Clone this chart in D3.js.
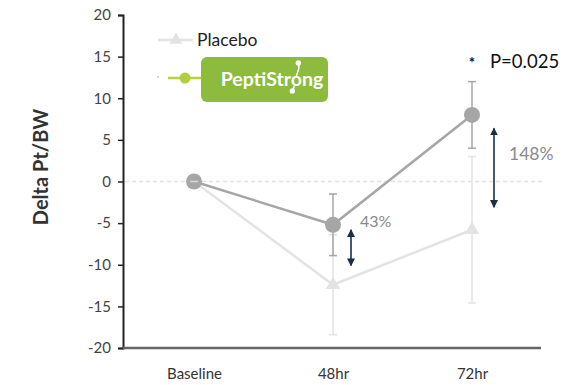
<!DOCTYPE html>
<html>
<head>
<meta charset="utf-8">
<script src="https://cdn.jsdelivr.net/npm/d3@7"></script>
<style>
  body { margin: 0; background: #fff; }
  svg { display: block; font-family: Lato, "Open Sans", sans-serif; }
</style>
</head>
<body>
<svg id="chart" width="565" height="385"></svg>
<script>
// Time points and tick labels
const categories = ["Baseline", "48hr", "72hr"];
const yTicks = [-20, -15, -10, -5, 0, 5, 10, 15, 20];

// Mean change and error (SD) per group
const peptiMean = [0, -5.2, 8.0];
const peptiErr = [0, 3.7, 4.0];
const placeboMean = [0, -12.4, -5.8];
const placeboErr = [0, 6.0, 8.8];

// Improvement annotations
const diffLabels = ["43%", "148%"];
const pLabel = "P=0.025";

const svg = d3.select("#chart");
const margin = { left: 123, right: 25, top: 15, bottom: 37 };
const W = 565, H = 385;

const x = d3.scalePoint().domain(categories).range([194, 472]);
const y = d3.scaleLinear().domain([-20, 20]).range([H - margin.bottom, margin.top]);

// zero reference line
svg.append("line")
  .attr("x1", margin.left + 2).attr("x2", 545)
  .attr("y1", y(0)).attr("y2", y(0))
  .attr("stroke", "#e2e2e2").attr("stroke-width", 1.5)
  .attr("stroke-dasharray", "4,3");

// y axis
const yAxis = svg.append("g")
  .attr("transform", `translate(${margin.left},0)`)
  .call(d3.axisLeft(y).tickValues(yTicks).tickFormat(d => String(d)).tickSize(5).tickPadding(7));
yAxis.select(".domain").attr("stroke", "#222").attr("stroke-width", 2);
yAxis.selectAll(".tick line").attr("stroke", "#222").attr("stroke-width", 1.5);
yAxis.selectAll(".tick text").attr("fill", "#444").attr("font-size", 15)
  .attr("font-family", "Lato, sans-serif");

// x axis
const xAxis = svg.append("g")
  .attr("transform", `translate(0,${y(-20)})`)
  .call(d3.axisBottom(x).tickSize(0).tickPadding(20));
xAxis.select(".domain").attr("d", `M${margin.left},0H541`)
  .attr("stroke", "#666").attr("stroke-width", 2.5);
xAxis.selectAll(".tick text").attr("fill", "#333").attr("font-size", 15)
  .attr("font-family", "Lato, sans-serif");

// y axis title
svg.append("text")
  .attr("transform", `translate(48,167) rotate(-90)`)
  .attr("text-anchor", "middle")
  .attr("font-size", 20).attr("font-weight", "bold").attr("fill", "#333")
  .attr("font-family", "Lato, sans-serif")
  .text("Delta Pt/BW");

const light = "#e3e3e3", mid = "#a6a6a6";

// Placebo series
const placeboPts = categories.map((c, i) => ({ c, m: placeboMean[i], e: placeboErr[i] }));
const errBar = (g, pts, color, capW) => {
  pts.filter(d => d.e > 0).forEach(d => {
    const cx = x(d.c);
    g.append("line").attr("x1", cx).attr("x2", cx)
      .attr("y1", y(d.m + d.e)).attr("y2", y(d.m - d.e))
      .attr("stroke", color).attr("stroke-width", 1.5);
    [d.m + d.e, d.m - d.e].forEach(v => g.append("line")
      .attr("x1", cx - capW).attr("x2", cx + capW)
      .attr("y1", y(v)).attr("y2", y(v))
      .attr("stroke", color).attr("stroke-width", 1.5));
  });
};
const gP = svg.append("g");
errBar(gP, placeboPts, light, 4);
gP.append("path").datum(placeboPts)
  .attr("d", d3.line().x(d => x(d.c)).y(d => y(d.m)))
  .attr("fill", "none").attr("stroke", light).attr("stroke-width", 2.5);
gP.selectAll("path.tri").data(placeboPts).join("path").attr("class", "tri")
  .attr("d", d3.symbol(d3.symbolTriangle, 90))
  .attr("transform", d => `translate(${x(d.c)},${y(d.m)})`)
  .attr("fill", light);

// PeptiStrong series
const peptiPts = categories.map((c, i) => ({ c, m: peptiMean[i], e: peptiErr[i] }));
const gS = svg.append("g");
errBar(gS, peptiPts, mid, 4);
gS.append("path").datum(peptiPts)
  .attr("d", d3.line().x(d => x(d.c)).y(d => y(d.m)))
  .attr("fill", "none").attr("stroke", mid).attr("stroke-width", 2.5);
gS.selectAll("circle").data(peptiPts).join("circle")
  .attr("cx", d => x(d.c)).attr("cy", d => y(d.m)).attr("r", 8)
  .attr("fill", mid);
// small placebo cap visible on the baseline marker
svg.append("line").attr("x1", x("Baseline") - 4).attr("x2", x("Baseline") + 4)
  .attr("y1", y(0)).attr("y2", y(0)).attr("stroke", "#d8d8d8").attr("stroke-width", 1.5);

// double-headed difference arrows
const navy = "#1c2f48";
svg.append("defs").append("marker")
  .attr("id", "head").attr("viewBox", "0 0 10 10").attr("refX", 9).attr("refY", 5)
  .attr("markerUnits", "userSpaceOnUse")
  .attr("markerWidth", 8).attr("markerHeight", 9).attr("orient", "auto-start-reverse")
  .append("path").attr("d", "M0,0L10,5L0,10Z").attr("fill", navy);
const arrows = [
  { c: "48hr", dx: 18, top: peptiMean[1] - 0.6, bot: placeboMean[1] + 2.3 },
  { c: "72hr", dx: 22, top: peptiMean[2] - 1.6, bot: placeboMean[2] + 2.7 }
];
arrows.forEach(a => {
  svg.append("line")
    .attr("x1", x(a.c) + a.dx).attr("x2", x(a.c) + a.dx)
    .attr("y1", y(a.top)).attr("y2", y(a.bot))
    .attr("stroke", navy).attr("stroke-width", 1.6)
    .attr("marker-start", "url(#head)").attr("marker-end", "url(#head)");
});
svg.append("text").attr("x", x("48hr") + 27).attr("y", y(peptiMean[1]) + 2)
  .attr("font-size", 16).attr("fill", "#8a8a8a").text(diffLabels[0]);
svg.append("text").attr("x", x("72hr") + 37).attr("y", y(2.6))
  .attr("font-size", 17.5).attr("fill", "#8a8a8a").text(diffLabels[1]);

// significance
svg.append("text").attr("x", x("72hr")).attr("y", 68)
  .attr("text-anchor", "middle").attr("font-size", 15).attr("font-weight", "bold")
  .attr("fill", "#111").text("*");
svg.append("text").attr("x", x("72hr") + 18).attr("y", 68)
  .attr("font-size", 18.5).attr("fill", "#111").text(pLabel);

// legend
const lg = svg.append("g");
lg.append("line").attr("x1", 158).attr("x2", 193).attr("y1", 40).attr("y2", 40)
  .attr("stroke", light).attr("stroke-width", 2.5);
lg.append("path").attr("d", d3.symbol(d3.symbolTriangle, 70))
  .attr("transform", "translate(176,40)").attr("fill", light);
lg.append("text").attr("x", 197).attr("y", 46).attr("font-size", 17.5)
  .attr("fill", "#222").text("Placebo");

lg.append("circle").attr("cx", 158).attr("cy", 77).attr("r", 0.8).attr("fill", "#8aa");
lg.append("line").attr("x1", 168).attr("x2", 202).attr("y1", 78).attr("y2", 78)
  .attr("stroke", "#b5d23f").attr("stroke-width", 2.5);
lg.append("circle").attr("cx", 185).attr("cy", 78).attr("r", 5.5).attr("fill", "#b0cf3c");
lg.append("rect").attr("x", 201).attr("y", 57).attr("width", 127).attr("height", 45)
  .attr("rx", 6).attr("fill", "#8dbb3d");
const logo = lg.append("text").attr("x", 272).attr("y", 86).attr("text-anchor", "middle")
  .attr("font-size", 19.5).attr("font-weight", "bold").attr("fill", "#fff")
  .attr("font-family", "Lato, sans-serif").text("PeptiStrong");
// molecule mark on the "o"
const oBox = logo.node().getExtentOfChar(8);
const ox = oBox.x + oBox.width / 2;
const mol = lg.append("g").attr("stroke", "#fff").attr("stroke-width", 1.5).attr("fill", "#fff");
mol.append("path").attr("d", `M${ox},76 C${ox + 1},72 ${ox + 4},69 ${ox + 2},63`).attr("fill", "none");
mol.append("line").attr("x1", ox - 2).attr("y1", 86).attr("x2", ox - 4).attr("y2", 91);
mol.append("circle").attr("cx", ox + 2).attr("cy", 63).attr("r", 2);
mol.append("circle").attr("cx", ox - 4).attr("cy", 91).attr("r", 2);
</script>
</body>
</html>
